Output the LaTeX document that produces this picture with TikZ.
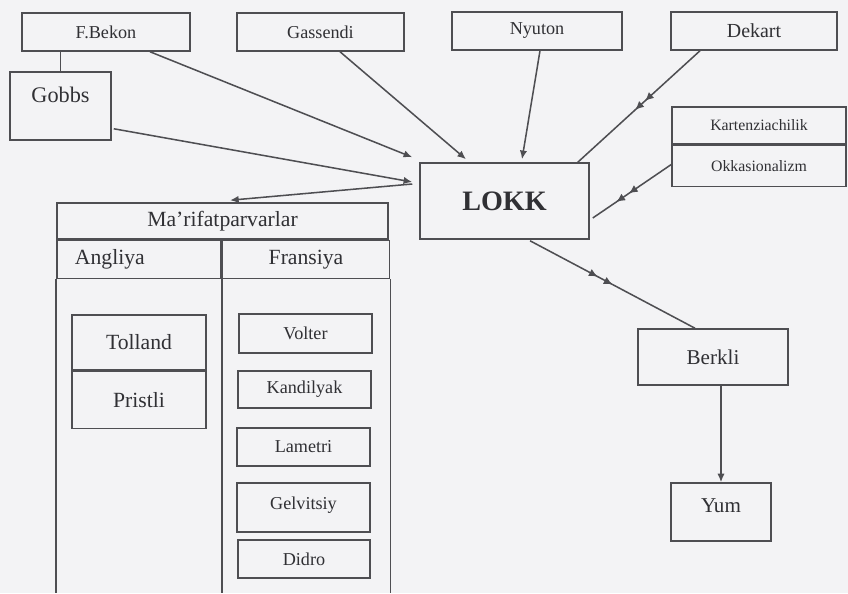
\documentclass[tikz,border=0pt]{standalone}
\usepackage{fontspec}
\setmainfont{Liberation Serif}
\usetikzlibrary{arrows.meta,positioning,calc,decorations.markings}
\definecolor{paper}{HTML}{F3F3F5}
\definecolor{ink}{HTML}{4E4E52}
\definecolor{inktext}{HTML}{303034}
\tikzset{
  pbox/.style={rectangle,draw=ink,line width=1.3pt,fill=paper,align=center,inner sep=2pt,text=inktext},
  sz/.style={font=\fontsize{#1}{#1}\selectfont},
  link/.style={-{Latex[length=2.6mm,width=2.2mm]},line width=1.3pt,draw=ink},
  plain/.style={line width=1.3pt,draw=ink},
  twin/.style 2 args={postaction={decorate},decoration={markings,
      mark=at position #1 with {\arrow[ink]{Latex[length=2.6mm,width=2.4mm]}},
      mark=at position #2 with {\arrow[ink]{Latex[length=2.6mm,width=2.4mm]}}}}
}
\begin{document}
\begin{tikzpicture}[x=0.03cm,y=-0.03cm]
  \fill[paper] (0,0) rectangle (848,593);
  \useasboundingbox (0,0) rectangle (848,593);
  \coordinate (floor) at (0,593);

  % top row
  \node[pbox,sz=15.5,minimum width=5.04cm,minimum height=1.14cm] (bekon) at (106,32) {F.Bekon};
  \node[pbox,sz=15.5,minimum width=5.01cm,minimum height=1.14cm] (gassendi) at (320.5,32) {Gassendi};
  \node[pbox,sz=15.5,minimum width=5.1cm,minimum height=1.14cm] (nyuton) at (537,31) {Nyuton};
  \node[pbox,sz=17,minimum width=4.98cm,minimum height=1.14cm] (dekart) at (754,31) {Dekart};
  \node[pbox,sz=19,minimum width=3.03cm,minimum height=2.04cm,text height=13pt,text depth=19pt] (gobbs) at (60.5,106) {Gobbs};

  % centre
  \node[pbox,font=\fontsize{24}{24}\selectfont\bfseries,minimum width=5.07cm,minimum height=2.28cm] (lokk) at (504.5,201) {LOKK};
  \node[pbox,sz=13.5,minimum width=5.22cm,minimum height=1.11cm] (kart) at (759,125.5) {Kartenziachilik};
  \node[pbox,sz=13.5,minimum width=5.22cm,minimum height=1.23cm,below=0pt of kart] (okkas) {Okkasionalizm};

  % table
  \node[pbox,sz=18.5,minimum width=9.93cm,minimum height=1.08cm] (marif) at (222.5,221) {Ma'rifatparvarlar};
  \node[pbox,sz=18.5,minimum height=1.14cm,text width=3.84cm,inner xsep=0.54cm,align=left,anchor=north west] (angliya) at (marif.south west) {Angliya};
  \node[pbox,sz=18.5,minimum width=5.01cm,minimum height=1.14cm,anchor=north west] (fransiya) at (angliya.north east) {Fransiya};
  \draw[ink,line width=1.3pt] (angliya.south west) -- (angliya.south west |- floor)
    (angliya.south east) -- (angliya.south east |- floor)
    (fransiya.south east) -- (fransiya.south east |- floor);

  \node[pbox,sz=18.5,minimum width=4.02cm,minimum height=1.65cm] (tolland) at (139,342.5) {Tolland};
  \node[pbox,sz=18.5,minimum width=4.02cm,minimum height=1.71cm,below=0pt of tolland] (pristli) {Pristli};

  \node[pbox,sz=15.5,minimum width=3.99cm,minimum height=1.17cm] (volter) at (305.5,333.5) {Volter};
  \node[pbox,sz=15.5,minimum width=3.99cm,minimum height=1.11cm] (kandilyak) at (304.5,389.5) {Kandilyak};
  \node[pbox,sz=15.5,minimum width=3.99cm,minimum height=1.14cm] (lametri) at (303.5,447) {Lametri};
  \node[pbox,sz=15.5,minimum width=3.99cm,minimum height=1.47cm,text height=11pt,text depth=8pt] (gelvitsiy) at (303.5,507.5) {Gelvitsiy};
  \node[pbox,sz=15.5,minimum width=3.96cm,minimum height=1.14cm] (didro) at (304,559) {Didro};

  % right side
  \node[pbox,sz=18,minimum width=4.5cm,minimum height=1.68cm] (berkli) at (713,357) {Berkli};
  \node[pbox,sz=18,minimum width=3cm,minimum height=1.74cm,text height=12pt,text depth=12pt] (yum) at (721,512) {Yum};

  % connectors
  \draw[plain] (gobbs.north) -- (gobbs.north |- bekon.south);
  \draw[link] ($(bekon.south)+(44,0)$) -- ($(lokk.north west)+(-7,-5)$);
  \draw[link] ($(gobbs.south east)+(2,-12)$) -- ($(lokk.west)+(-7,-19)$);
  \draw[link] ($(gassendi.south)+(19.5,0)$) -- ($(lokk.north)+(-38.5,-3)$);
  \draw[link] ($(nyuton.south)+(3,0)$) -- ($(lokk.north)+(17.5,-3)$);
  \draw[plain,twin={0.45}{0.53}] ($(dekart.south)+(-54,0)$) -- ($(lokk.north east)+(-12,0)$);
  \draw[plain,twin={0.54}{0.70}] ($(okkas.west)+(0,-1.5)$) -- ($(lokk.east)+(3,17)$);
  \draw[plain,twin={0.41}{0.50}] ($(lokk.south)+(25.5,1)$) -- ($(berkli.north)+(-18,0)$);
  \draw[link] ($(berkli.south)+(8,0)$) -- (yum.north);
  \draw[link] ($(lokk.west)+(-7,-17)$) -- ($(marif.north)+(7.5,-2)$);
\end{tikzpicture}
\end{document}
